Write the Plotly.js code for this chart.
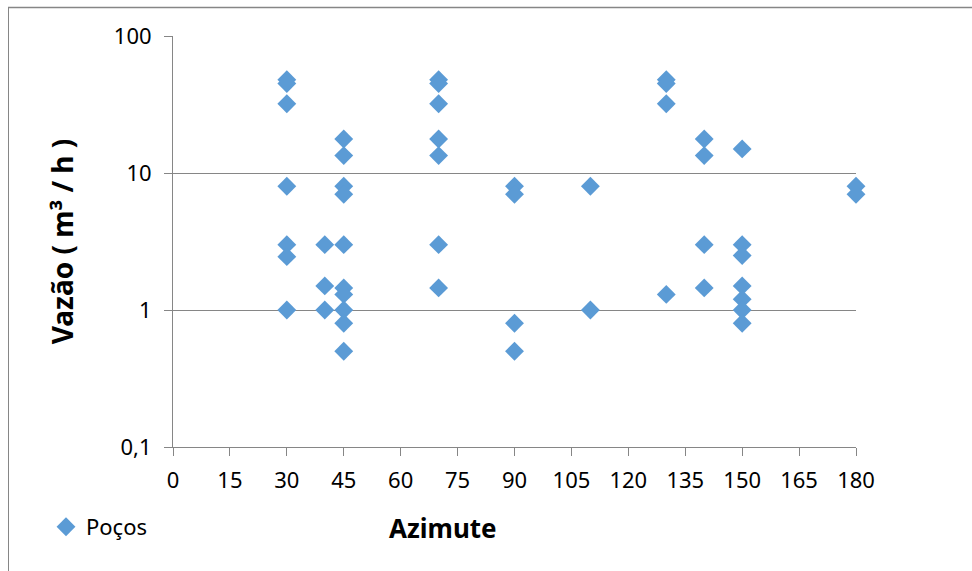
<!DOCTYPE html>
<html>
<head>
<meta charset="utf-8">
<script src="https://cdn.plot.ly/plotly-3.0.1.min.js"></script>
<style>
html,body{margin:0;padding:0;background:#fff;}
#chart{width:972px;height:571px;}
</style>
</head>
<body>
<div id="chart"></div>
<script>
// Azimute (graus) of each well
const azimute = [
  30,30,30,30,30,30,30,
  40,40,40,
  45,45,45,45,45,45,45,45,45,45,
  70,70,70,70,70,70,70,
  90,90,90,90,
  110,110,
  130,130,130,130,
  140,140,140,140,
  150,150,150,150,150,150,150,
  180,180
];
// Vazão (m³/h) of each well
const vazao = [
  48,45,32,8,3,2.45,1,
  3,1.5,1,
  17.7,13.4,8,7,3,1.45,1.3,1,0.8,0.5,
  48,45,32,17.7,13.4,3,1.45,
  8,7,0.8,0.5,
  8,1,
  48,45,32,1.3,
  17.7,13.4,3,1.45,
  15,3,2.5,1.5,1.2,1,0.8,
  8,7
];
const xTicks = [0,15,30,45,60,75,90,105,120,135,150,165,180];
const yTickVals = [0.1,1,10,100];
const yTickText = ["0,1","1","10","100"];

const font = "Noto Sans, Open Sans, Liberation Sans, sans-serif";
const L = 173, R = 116, T = 36, B = 124;
const pw = 972 - L - R, ph = 571 - T - B;
const px = v => (v - L) / pw;
const py = v => (571 - B - v) / ph;

const trace = {
  type: "scatter",
  mode: "markers",
  name: "Poços",
  x: azimute,
  y: vazao,
  marker: {symbol: "diamond", size: 14.5, color: "#5B9BD5", line: {width: 0}},
  cliponaxis: false
};

const layout = {
  width: 972, height: 571,
  margin: {l: L, r: R, t: T, b: B, pad: 0},
  paper_bgcolor: "#ffffff",
  plot_bgcolor: "#ffffff",
  font: {family: font, size: 22, color: "#000000"},
  showlegend: true,
  legend: {
    x: px(46), y: py(527), xanchor: "left", yanchor: "middle",
    font: {family: font, size: 22, color: "#000"},
    bgcolor: "rgba(0,0,0,0)",
    itemwidth: 30
  },
  xaxis: {
    range: [0, 180],
    tickvals: xTicks,
    ticktext: xTicks.map(String),
    ticks: "outside", ticklen: 8, tickcolor: "#868686", tickwidth: 1,
    ticklabelstandoff: 6,
    showline: true, linecolor: "#868686", linewidth: 1,
    showgrid: false, zeroline: false,
    tickfont: {family: font, size: 22},
    title: {text: ""}
  },
  yaxis: {
    type: "log",
    range: [-1, 2],
    tickvals: yTickVals,
    ticktext: yTickText,
    ticks: "outside", ticklen: 8, tickcolor: "#868686", tickwidth: 1,
    ticklabelstandoff: 8,
    showline: true, linecolor: "#868686", linewidth: 1,
    showgrid: true, gridcolor: "#868686", gridwidth: 1,
    zeroline: false,
    tickfont: {family: font, size: 22},
    title: {text: "Vazão ( m³ / h )", font: {family: font, size: 28, color: "#000", weight: "bold"}, standoff: 32}
  },
  annotations: [{
    text: "<b>Azimute</b>",
    xref: "paper", yref: "paper",
    x: px(443), y: py(528), xanchor: "center", yanchor: "middle",
    showarrow: false,
    font: {family: font, size: 26, color: "#000"}
  }],
  shapes: [
    {type: "line", xref: "paper", yref: "paper",
     x0: px(8), x1: px(972), y0: py(7.5), y1: py(7.5),
     line: {color: "#868686", width: 1.5}, layer: "below"},
    {type: "line", xref: "paper", yref: "paper",
     x0: px(8.5), x1: px(8.5), y0: py(7), y1: py(571),
     line: {color: "#868686", width: 1}, layer: "below"}
  ]
};

Plotly.newPlot("chart", [trace], layout, {displayModeBar: false, staticPlot: true});
</script>
</body>
</html>
